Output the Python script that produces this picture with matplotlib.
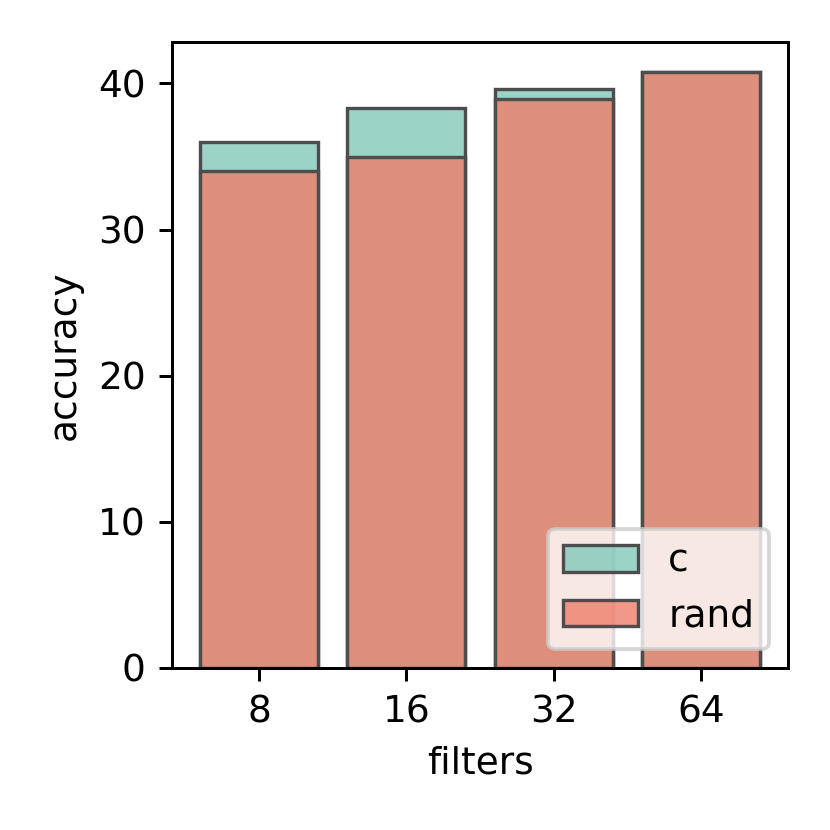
import matplotlib
matplotlib.use("Agg")
import matplotlib.pyplot as plt
import numpy as np

filters = ["8", "16", "32", "64"]
acc_c = [36.0, 38.35, 39.65, 40.8]
acc_rand = [34.0, 35.0, 38.95, 40.8]

DPI = 270
fig = plt.figure(figsize=(830 / DPI, 830 / DPI), dpi=DPI)
ax = fig.add_axes([172 / 830, 162 / 830, (788 - 172) / 830, (668 - 42) / 830])

x = np.arange(len(filters))
c_face = (0x82 / 255, 0xc8 / 255, 0xba / 255, 0.8)
r_face = (0xef / 255, 0x7e / 255, 0x6a / 255, 0.8)
edge = "#4d4d4d"

ax.bar(x, acc_c, width=0.8, facecolor=c_face, edgecolor=edge, linewidth=0.9, label="c")
ax.bar(x, acc_rand, width=0.8, facecolor=r_face, edgecolor=edge, linewidth=0.9, label="rand")

ax.set_xticks(x)
ax.set_xticklabels(filters)
ax.set_yticks([0, 10, 20, 30, 40])
ax.set_xlabel("filters")
ax.set_ylabel("accuracy")
ax.legend(loc="lower right", framealpha=0.8)

fig.savefig("out.png", dpi=DPI)
